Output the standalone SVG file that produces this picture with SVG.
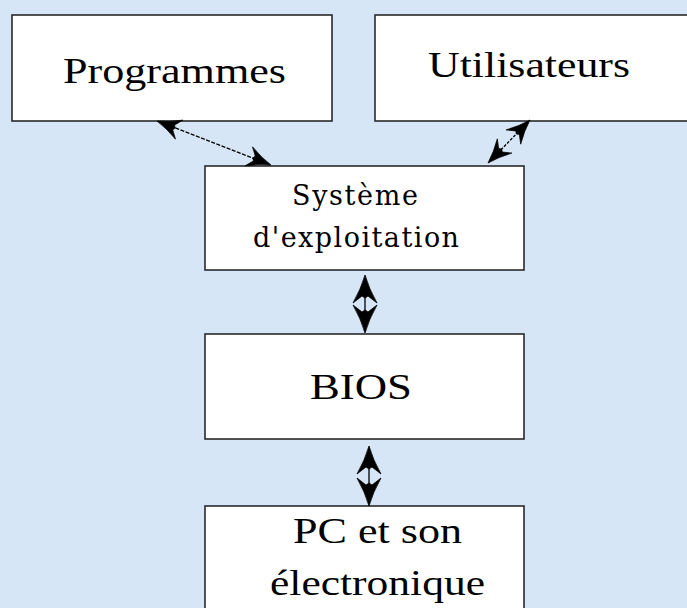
<svg xmlns="http://www.w3.org/2000/svg" width="687" height="608" viewBox="0 0 687 608">
<defs>
<style>
.box{fill:#ffffff;stroke:#2a2a2a;stroke-width:1.6}
.t{font-family:"Liberation Serif","Times New Roman",serif;fill:#000;font-size:36px}
.m{font-family:"DejaVu Serif","Liberation Serif",serif;fill:#000;font-size:27px}
.ln{stroke:#000;stroke-width:1.3;fill:none}
.hd{fill:#000;stroke:#000;stroke-width:0.8;stroke-linejoin:miter}
</style>
<path id="head" d="M0,0 Q-4,14 -12,28 L-3,21 L0,23 L3,21 L12,28 Q4,14 0,0 Z"/>
</defs>
<rect x="0" y="0" width="687" height="608" fill="#d6e6f6"/>
<g id="programmes">
<rect class="box" x="12" y="15" width="320" height="106"/>
<text class="t" x="63" y="83" textLength="223" lengthAdjust="spacingAndGlyphs">Programmes</text>
</g>
<g id="utilisateurs">
<rect class="box" x="375" y="15" width="330" height="106"/>
<text class="t" x="428" y="77" textLength="202" lengthAdjust="spacingAndGlyphs">Utilisateurs</text>
</g>
<g id="systeme">
<rect class="box" x="205" y="166" width="319" height="104"/>
<text class="m" x="292" y="205" textLength="126" lengthAdjust="spacing">Système</text>
<text class="m" x="253" y="247" textLength="206" lengthAdjust="spacing">d'exploitation</text>
</g>
<g id="bios">
<rect class="box" x="205" y="334" width="319" height="105"/>
<text class="t" x="310" y="399" textLength="102" lengthAdjust="spacingAndGlyphs">BIOS</text>
</g>
<g id="pc">
<rect class="box" x="205" y="506" width="319" height="120"/>
<text class="t" x="293" y="543" textLength="169" lengthAdjust="spacingAndGlyphs">PC et son</text>
<text class="t" x="270" y="595" textLength="215" lengthAdjust="spacingAndGlyphs">électronique</text>
</g>
<g id="connectors">
<line class="ln" x1="160" y1="122" x2="268" y2="164" stroke-dasharray="4,1.5"/>
<use href="#head" class="hd" transform="translate(157,121) rotate(-68.7) scale(0.85)"/>
<use href="#head" class="hd" transform="translate(271,165) rotate(111.3) scale(0.85)"/>
<line class="ln" x1="528" y1="122" x2="490" y2="161" stroke-dasharray="3,1.5"/>
<use href="#head" class="hd" transform="translate(530,120) rotate(44.3) scale(0.85)"/>
<use href="#head" class="hd" transform="translate(488,163) rotate(224.3) scale(0.85)"/>
<line class="ln" x1="365" y1="278" x2="365" y2="331"/>
<use href="#head" class="hd" transform="translate(365,275)"/>
<use href="#head" class="hd" transform="translate(365,333) rotate(180)"/>
<line class="ln" x1="369" y1="448" x2="369" y2="504"/>
<use href="#head" class="hd" transform="translate(369,446)"/>
<use href="#head" class="hd" transform="translate(369,506) rotate(180)"/>
</g>
</svg>
